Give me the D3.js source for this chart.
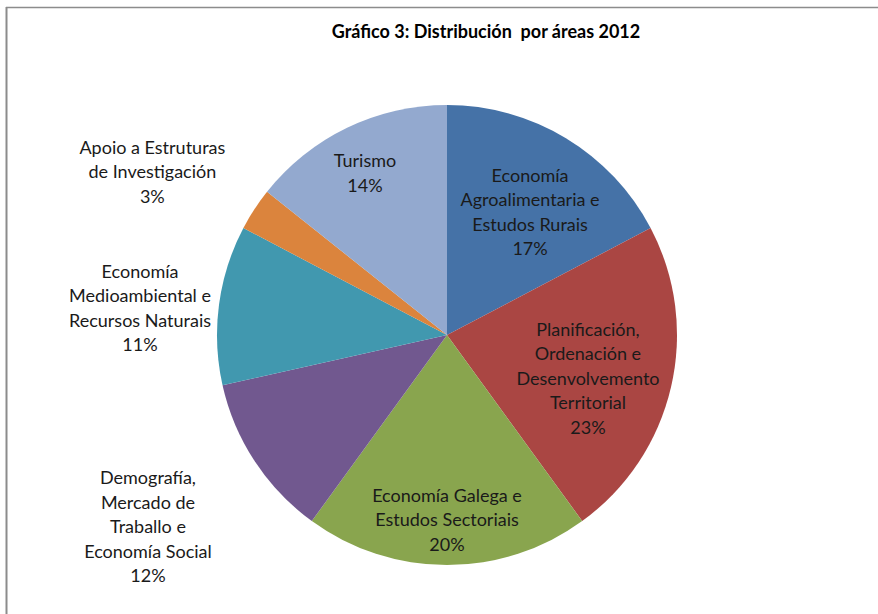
<!DOCTYPE html>
<meta charset="utf-8">
<script src="https://cdn.jsdelivr.net/npm/d3@7"></script>
<style>
  body { margin: 0; background: #fff; }
</style>
<div id="my_dataviz"></div>
<script>

// data
var areas = [
  ["Economía", "Agroalimentaria e", "Estudos Rurais"],
  ["Planificación,", "Ordenación e", "Desenvolvemento", "Territorial"],
  ["Economía Galega e", "Estudos Sectoriais"],
  ["Demografía,", "Mercado de", "Traballo e", "Economía Social"],
  ["Economía", "Medioambiental e", "Recursos Naturais"],
  ["Apoio a Estruturas", "de Investigación"],
  ["Turismo"]
];
var shares = [17.3, 22.7, 20.0, 11.5, 11.2, 3.0, 14.3];
var pctLabels = ["17%", "23%", "20%", "12%", "11%", "3%", "14%"];
var colors = ["#4572A7", "#AA4643", "#89A54E", "#71588F", "#4198AF", "#DB843D", "#93A9CF"];

// label placement: distance from centre (share of radius) and angle nudge (degrees)
var labelDist = [0.645, 0.641, 0.804, 1.545, 1.34, 1.465, 0.79];
var labelTurn = [2.9, 3.9, 0, 0.6, -2.5, -4.1, -1.1];

var width = 878, height = 614;
var cx = 447, cy = 335, radius = 230;
var lineH = 24.5;
var font = "Lato, 'Open Sans', sans-serif";

var svg = d3.select("#my_dataviz")
  .append("svg")
    .attr("width", width)
    .attr("height", height);

// frame (left and top edges only visible)
svg.append("line")
  .attr("x1", 6.5).attr("y1", 7).attr("x2", 6.5).attr("y2", height)
  .style("stroke", "#8c8c8c").style("stroke-width", 2);
svg.append("line")
  .attr("x1", 6).attr("y1", 7.5).attr("x2", width).attr("y2", 7.5)
  .style("stroke", "#8c8c8c").style("stroke-width", 1.3);

svg.append("text")
  .attr("x", 486)
  .attr("y", 38)
  .attr("text-anchor", "middle")
  .attr("font-family", font)
  .attr("font-weight", "bold")
  .style("font-size", "18px")
  .style("fill", "#000")
  .style("white-space", "pre")
  .text("Gráfico 3: Distribución  por áreas 2012");

var pie = d3.pie().sort(null).value(function(d) { return d; });
var arc = d3.arc().innerRadius(0).outerRadius(radius);
var arcs = pie(shares);

var g = svg.append("g")
  .attr("transform", "translate(" + cx + "," + cy + ")");

g.selectAll("path")
  .data(arcs)
  .enter()
  .append("path")
    .attr("d", arc)
    .style("fill", function(d, i) { return colors[i]; });

// labels
arcs.forEach(function(d, i) {
  var a = (d.startAngle + d.endAngle) / 2 + labelTurn[i] * Math.PI / 180;
  var r = radius * labelDist[i];
  var x = Math.sin(a) * r;
  var y = -Math.cos(a) * r;
  var lines = areas[i].concat([pctLabels[i]]);
  var y0 = y - (lines.length - 1) * lineH / 2;
  var t = g.append("text")
    .attr("text-anchor", "middle")
    .attr("font-family", font)
    .style("font-size", "18px")
    .style("fill", "#1a1a1a");
  lines.forEach(function(l, k) {
    t.append("tspan")
      .attr("x", x)
      .attr("y", y0 + k * lineH + 6.5)
      .text(l);
  });
});

</script>
